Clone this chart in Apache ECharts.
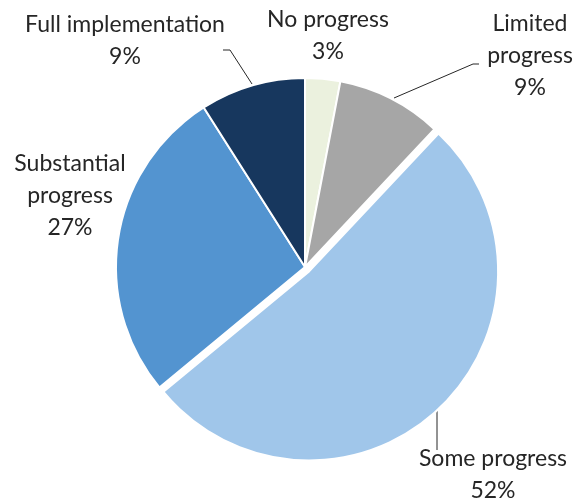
<!DOCTYPE html>
<html>
<head>
<meta charset="utf-8">
<script src="https://cdn.jsdelivr.net/npm/echarts@6/dist/echarts.min.js"></script>
<style>html,body{margin:0;padding:0;background:#fff}#c{width:587px;height:500px}</style>
</head>
<body>
<div id="c"></div>
<script>
var categories = ['No progress', 'Limited progress', 'Some progress', 'Substantial progress', 'Full implementation'];
var labelTexts = ['No progress\n3%', 'Limited\nprogress\n9%', 'Some progress\n52%', 'Substantial\nprogress\n27%', 'Full implementation\n9%'];
var values = [3, 9, 52, 27, 9];
var colors = ['#EBF1DE', '#A6A6A6', '#A0C6EA', '#5394D0', '#17375E'];

var labelPos = [
  {x: 328, y: 36, inSeries: true, line: null},
  {x: 530, y: 56, inSeries: true, line: [[394, 98], [473, 64], [479, 64]]},
  {x: 493, y: 475, inSeries: false, line: [[437, 402], [437, 450]]},
  {x: 70, y: 196, inSeries: true, line: null},
  {x: 125, y: 41, inSeries: true, line: [[252, 84], [230, 50], [223, 50]]}
];

var textStyle = {fontFamily: 'Lato', fontSize: 23, lineHeight: 32, color: '#262626'};

var data = categories.map(function (c, i) {
  return {
    name: c,
    value: values[i],
    selected: i === 2,
    itemStyle: {color: colors[i]},
    label: {show: labelPos[i].inSeries, formatter: labelTexts[i]},
    labelLine: {show: labelPos[i].inSeries && !!labelPos[i].line}
  };
});

var graphics = [];
labelPos.forEach(function (lp, i) {
  if (lp.inSeries) return;
  graphics.push({
    type: 'text', x: lp.x, y: lp.y, silent: true,
    style: {text: labelTexts[i], textAlign: 'center', textVerticalAlign: 'middle',
      font: '23px Lato', lineHeight: 32, fill: textStyle.color}
  });
  if (lp.line) {
    graphics.push({
      type: 'polyline', silent: true,
      shape: {points: lp.line},
      style: {stroke: '#262626', lineWidth: 1, fill: null}
    });
  }
});

var chart = echarts.init(document.getElementById('c'));
chart.setOption({
  animation: false,
  graphic: graphics,
  series: [{
    type: 'pie',
    center: [305, 267],
    radius: [0, 189],
    startAngle: 90,
    clockwise: true,
    avoidLabelOverlap: false,
    selectedMode: 'single',
    selectedOffset: 6,
    data: data,
    itemStyle: {borderColor: '#fff', borderWidth: 2},
    label: {
      position: 'outside',
      fontFamily: textStyle.fontFamily,
      fontSize: textStyle.fontSize,
      lineHeight: textStyle.lineHeight,
      color: textStyle.color,
      align: 'center',
      overflow: 'none'
    },
    labelLine: {
      lineStyle: {color: '#262626', width: 1}
    },
    emphasis: {disabled: true},
    labelLayout: function (p) {
      var lp = labelPos[p.dataIndex];
      var r = {x: lp.x, y: lp.y, align: 'center', verticalAlign: 'middle'};
      if (lp.line) r.labelLinePoints = lp.line;
      return r;
    }
  }]
});
</script>
</body>
</html>
